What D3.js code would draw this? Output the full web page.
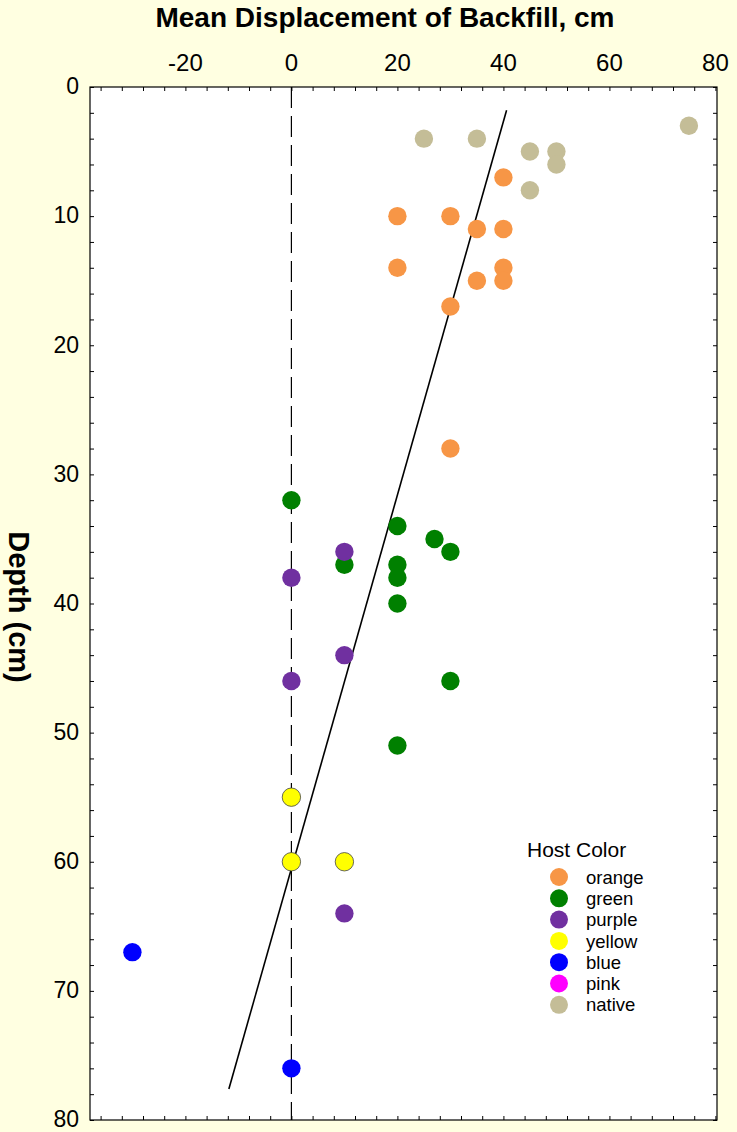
<!DOCTYPE html>
<html><head><meta charset="utf-8">
<script src="https://cdn.jsdelivr.net/npm/d3@7"></script>
<style>body{margin:0;background:#FFFFE1}svg{display:block}</style>
</head><body><svg id="chart" width="737" height="1132"></svg>
<script>
// ---- data ----
const categories = ["orange", "green", "purple", "yellow", "blue", "pink", "native"];
const categoryColors = ["#F79646", "#008000", "#7030A0", "#FFFF00", "#0000FF", "#FF00FF", "#C4BD97"];
const orangeX = [40, 20, 30, 35, 40, 20, 40, 35, 40, 30, 30];
const orangeDepth = [7, 10, 10, 11, 11, 14, 14, 15, 15, 17, 28];
const greenX = [0, 20, 27, 30, 10, 20, 20, 20, 30, 20];
const greenDepth = [32, 34, 35, 36, 37, 37, 38, 40, 46, 51];
const purpleX = [10, 0, 10, 0, 10];
const purpleDepth = [36, 38, 44, 46, 64];
const yellowX = [0, 0, 10];
const yellowDepth = [55, 60, 60];
const blueX = [-30, 0];
const blueDepth = [67, 76];
const pinkX = [];
const pinkDepth = [];
const nativeX = [75, 25, 35, 45, 50, 50, 45];
const nativeDepth = [3, 4, 4, 5, 5, 6, 8];
const fitX = [40.6, -11.8];
const fitDepth = [1.8, 77.6];
const xTickLabels = [-20, 0, 20, 40, 60, 80];
const yTickLabels = [0, 10, 20, 30, 40, 50, 60, 70, 80];
const xTitle = "Mean Displacement of Backfill, cm";
const yTitle = "Depth (cm)";
const legendTitle = "Host Color";

const seriesX = [orangeX, greenX, purpleX, yellowX, blueX, pinkX, nativeX];
const seriesDepth = [orangeDepth, greenDepth, purpleDepth, yellowDepth, blueDepth, pinkDepth, nativeDepth];

// ---- layout ----
const L = 90, R = 717, T = 87, B = 1120;
const svg = d3.select("#chart");
const font = "'Liberation Sans', Arial, sans-serif";
const x = d3.scaleLinear().domain([-38, 80.3]).range([L, R]);
const y = d3.scaleLinear().domain([0, 80]).range([T, B]);

svg.append("rect").attr("width", 737).attr("height", 1132).attr("fill", "#FFFFE1");
svg.append("rect").attr("x", L).attr("y", T).attr("width", R - L).attr("height", B - T).attr("fill", "#fff");

// ticks
const minorX = d3.range(-36, 81, 4);
const minorY = d3.range(0, 81, 2);
const axTop = d3.axisTop(x).tickValues(minorX).tickSize(-4).tickFormat("");
const axBot = d3.axisBottom(x).tickValues(minorX).tickSize(-4).tickFormat("");
const axLeft = d3.axisLeft(y).tickValues(minorY).tickSize(-4).tickFormat("");
const axRight = d3.axisRight(y).tickValues(minorY).tickSize(-4).tickFormat("");
const gT = svg.append("g").attr("transform", `translate(0,${T})`).call(axTop);
const gB = svg.append("g").attr("transform", `translate(0,${B})`).call(axBot);
const gL = svg.append("g").attr("transform", `translate(${L},0)`).call(axLeft);
const gR = svg.append("g").attr("transform", `translate(${R},0)`).call(axRight);
[gT, gB, gL, gR].forEach(g => { g.select(".domain").remove(); g.selectAll("line").attr("stroke", "#000"); });

// tick labels
svg.append("g").selectAll("text").data(xTickLabels).join("text")
  .attr("x", d => x(d)).attr("y", 71).attr("text-anchor", "middle")
  .attr("font-family", font).attr("font-size", 24).text(d => d);
svg.append("g").selectAll("text").data(yTickLabels).join("text")
  .attr("x", 79).attr("y", d => y(d)).attr("dy", "0.32em").attr("text-anchor", "end")
  .attr("font-family", font).attr("font-size", 23).text(d => d);

// zero dashed line
svg.append("line").attr("x1", x(0)).attr("x2", x(0)).attr("y1", T).attr("y2", B)
  .attr("stroke", "#000").attr("stroke-width", 1.2).attr("stroke-dasharray", "21,8");

// fit line
svg.append("line").attr("x1", x(fitX[0])).attr("y1", y(fitDepth[0])).attr("x2", x(fitX[1])).attr("y2", y(fitDepth[1]))
  .attr("stroke", "#000").attr("stroke-width", 1.6);

// points
categories.forEach((c, i) => {
  const pts = seriesX[i].map((v, j) => [v, seriesDepth[i][j]]);
  svg.append("g").selectAll("circle").data(pts).join("circle")
    .attr("cx", d => x(d[0])).attr("cy", d => y(d[1])).attr("r", 9.2)
    .attr("fill", categoryColors[i])
    .attr("stroke", c === "yellow" ? "#444" : "none").attr("stroke-width", 0.8);
});

// frame
svg.append("rect").attr("x", L).attr("y", T).attr("width", R - L).attr("height", B - T)
  .attr("fill", "none").attr("stroke", "#000").attr("stroke-width", 1.2);

// titles
svg.append("text").attr("x", 385).attr("y", 27).attr("text-anchor", "middle")
  .attr("font-family", font).attr("font-weight", "bold").attr("font-size", 28).text(xTitle);
svg.append("text").attr("transform", "translate(9,607) rotate(90)").attr("text-anchor", "middle")
  .attr("font-family", font).attr("font-weight", "bold").attr("font-size", 29).text(yTitle);

// legend
const lg = svg.append("g");
lg.append("text").attr("x", 527).attr("y", 857).attr("font-family", font).attr("font-size", 21).text(legendTitle);
categories.forEach((c, i) => {
  const cy = 877 + i * 21.3;
  lg.append("circle").attr("cx", 559).attr("cy", cy).attr("r", 9).attr("fill", categoryColors[i]);
  lg.append("text").attr("x", 586).attr("y", cy).attr("dy", "0.36em")
    .attr("font-family", font).attr("font-size", 18.5).text(c);
});
</script></body></html>
